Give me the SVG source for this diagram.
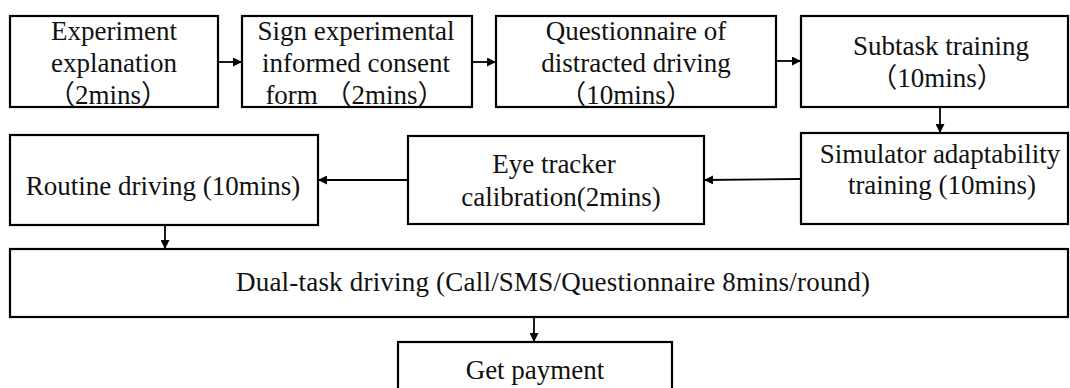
<svg xmlns="http://www.w3.org/2000/svg" width="1070" height="388" viewBox="0 0 1070 388">
  <style>
    .box { fill: #ffffff; stroke: #000000; stroke-width: 2.2; }
    .lbl { font-family: 'Liberation Serif', 'Noto Sans CJK SC', serif; font-size: 27px; fill: #111111; }
    .mid { text-anchor: middle; }
    .edge { stroke: #000000; stroke-width: 1.8; fill: none; marker-end: url(#arrow); }
  </style>
  <defs>
    <marker id="arrow" viewBox="0 0 10 10" refX="10" refY="5" markerWidth="5" markerHeight="5" orient="auto" markerUnits="strokeWidth">
      <path d="M0,0 L10,5 L0,10 Z" fill="#000000"/>
    </marker>
  </defs>
  <rect width="1070" height="388" fill="#ffffff"/>

  <g id="n-explanation">
    <rect class="box" x="10" y="16" width="208" height="91"/>
    <text class="lbl mid" x="114" y="40">Experiment</text>
    <text class="lbl mid" x="114" y="72">explanation</text>
    <text class="lbl mid" x="108" y="104">（2mins）</text>
  </g>

  <g id="n-consent">
    <rect class="box" x="242" y="16" width="230" height="91"/>
    <text class="lbl mid" x="356" y="40">Sign experimental</text>
    <text class="lbl mid" x="356" y="72">informed consent</text>
    <text class="lbl mid" x="355" y="104">form （2mins）</text>
  </g>

  <g id="n-questionnaire">
    <rect class="box" x="496" y="16" width="280" height="91"/>
    <text class="lbl mid" x="636" y="40">Questionnaire of</text>
    <text class="lbl mid" x="636" y="72">distracted driving</text>
    <text class="lbl mid" x="626" y="104">（10mins）</text>
  </g>

  <g id="n-subtask">
    <rect class="box" x="801" y="16" width="267" height="91"/>
    <text class="lbl mid" x="941" y="55">Subtask training</text>
    <text class="lbl mid" x="937" y="87">（10mins）</text>
  </g>

  <g id="n-simulator">
    <rect class="box" x="801" y="133" width="267" height="91"/>
    <text class="lbl mid" x="940" y="163">Simulator adaptability</text>
    <text class="lbl mid" x="942" y="194">training (10mins)</text>
  </g>

  <g id="n-eyetracker">
    <rect class="box" x="408" y="136" width="296" height="88"/>
    <text class="lbl mid" x="554" y="173">Eye tracker</text>
    <text class="lbl mid" x="561" y="206">calibration(2mins)</text>
  </g>

  <g id="n-routine">
    <rect class="box" x="10" y="135" width="308" height="90"/>
    <text class="lbl mid" x="163" y="195">Routine driving (10mins)</text>
  </g>

  <g id="n-dualtask">
    <rect class="box" x="10" y="249" width="1058" height="68"/>
    <text class="lbl" x="236" y="291" textLength="634" lengthAdjust="spacing">Dual-task driving  (Call/SMS/Questionnaire 8mins/round)</text>
  </g>

  <g id="n-payment">
    <rect class="box" x="398" y="342" width="274" height="60"/>
    <text class="lbl mid" x="535" y="379">Get payment</text>
  </g>

  <g id="connectors">
    <line class="edge" x1="218" y1="62" x2="242" y2="62"/>
    <line class="edge" x1="472" y1="62" x2="496" y2="62"/>
    <line class="edge" x1="776" y1="61" x2="801" y2="61"/>
    <line class="edge" x1="940" y1="107" x2="940" y2="133"/>
    <line class="edge" x1="801" y1="179" x2="704" y2="180"/>
    <line class="edge" x1="408" y1="180" x2="318" y2="180"/>
    <line class="edge" x1="165" y1="225" x2="165" y2="249"/>
    <line class="edge" x1="534" y1="317" x2="534" y2="342"/>
  </g>
</svg>
